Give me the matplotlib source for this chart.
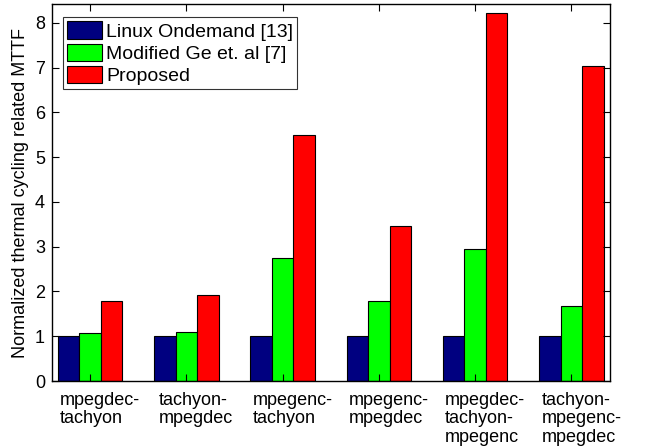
import matplotlib

matplotlib.use("Agg")
import matplotlib.pyplot as plt
import matplotlib.transforms as mtransforms
import numpy as np

plt.rcParams["font.family"] = ["Liberation Sans", "DejaVu Sans"]

workloads = [
    "mpegdec-\ntachyon",
    "tachyon-\nmpegdec",
    "mpegenc-\ntachyon",
    "mpegenc-\nmpegdec",
    "mpegdec-\ntachyon-\nmpegenc",
    "tachyon-\nmpegenc-\nmpegdec",
]
ondemand = [1.0, 1.0, 1.0, 1.0, 1.0, 1.0]
modified_ge = [1.08, 1.10, 2.74, 1.78, 2.94, 1.67]
proposed = [1.79, 1.91, 5.50, 3.47, 8.21, 7.03]

series = [
    ("Linux Ondemand [13]", ondemand, "#000080"),
    ("Modified Ge et. al [7]", modified_ge, "#00ff00"),
    ("Proposed", proposed, "#ff0000"),
]

fig = plt.figure(figsize=(6.46, 4.46), dpi=100)
ax = fig.add_axes([52 / 646, 65 / 446, 558 / 646, 377 / 446])

x = np.arange(1, len(workloads) + 1)
width = 0.223
for i, (label, values, color) in enumerate(series):
    ax.bar(x + (i - 1) * width, values, width, color=color,
           edgecolor="black", linewidth=0.8, label=label)

ax.set_xlim(0.605, 6.40)
ax.set_ylim(0, 8.42)
ax.set_xticks(x)
ax.set_xticklabels(workloads, fontsize=13, va="top", linespacing=1.1,
                   multialignment="left")
ax.set_yticks(range(0, 9))
ax.tick_params(axis="y", labelsize=13, pad=5)
ax.tick_params(direction="in", top=True, right=True, length=5, width=0.8)
ax.tick_params(axis="x", pad=8)
ax.set_ylabel("Normalized thermal cycling related MTTF", fontsize=13, labelpad=4)

# category labels sit a little right of their tick
shift = mtransforms.ScaledTranslation(10 / 100, 0, fig.dpi_scale_trans)
for lbl in ax.get_xticklabels():
    lbl.set_transform(lbl.get_transform() + shift)

for spine in ax.spines.values():
    spine.set_linewidth(1.0)

leg = ax.legend(loc="upper left", fontsize=14, frameon=True, fancybox=False,
                edgecolor="black", handlelength=1.8, handleheight=1.0,
                handletextpad=0.2, labelspacing=0.15, borderpad=0.22,
                borderaxespad=0.0, bbox_to_anchor=(11 / 558, 1 - 13 / 377))
leg.get_frame().set_linewidth(0.8)

fig.savefig("out.png", dpi=100)
